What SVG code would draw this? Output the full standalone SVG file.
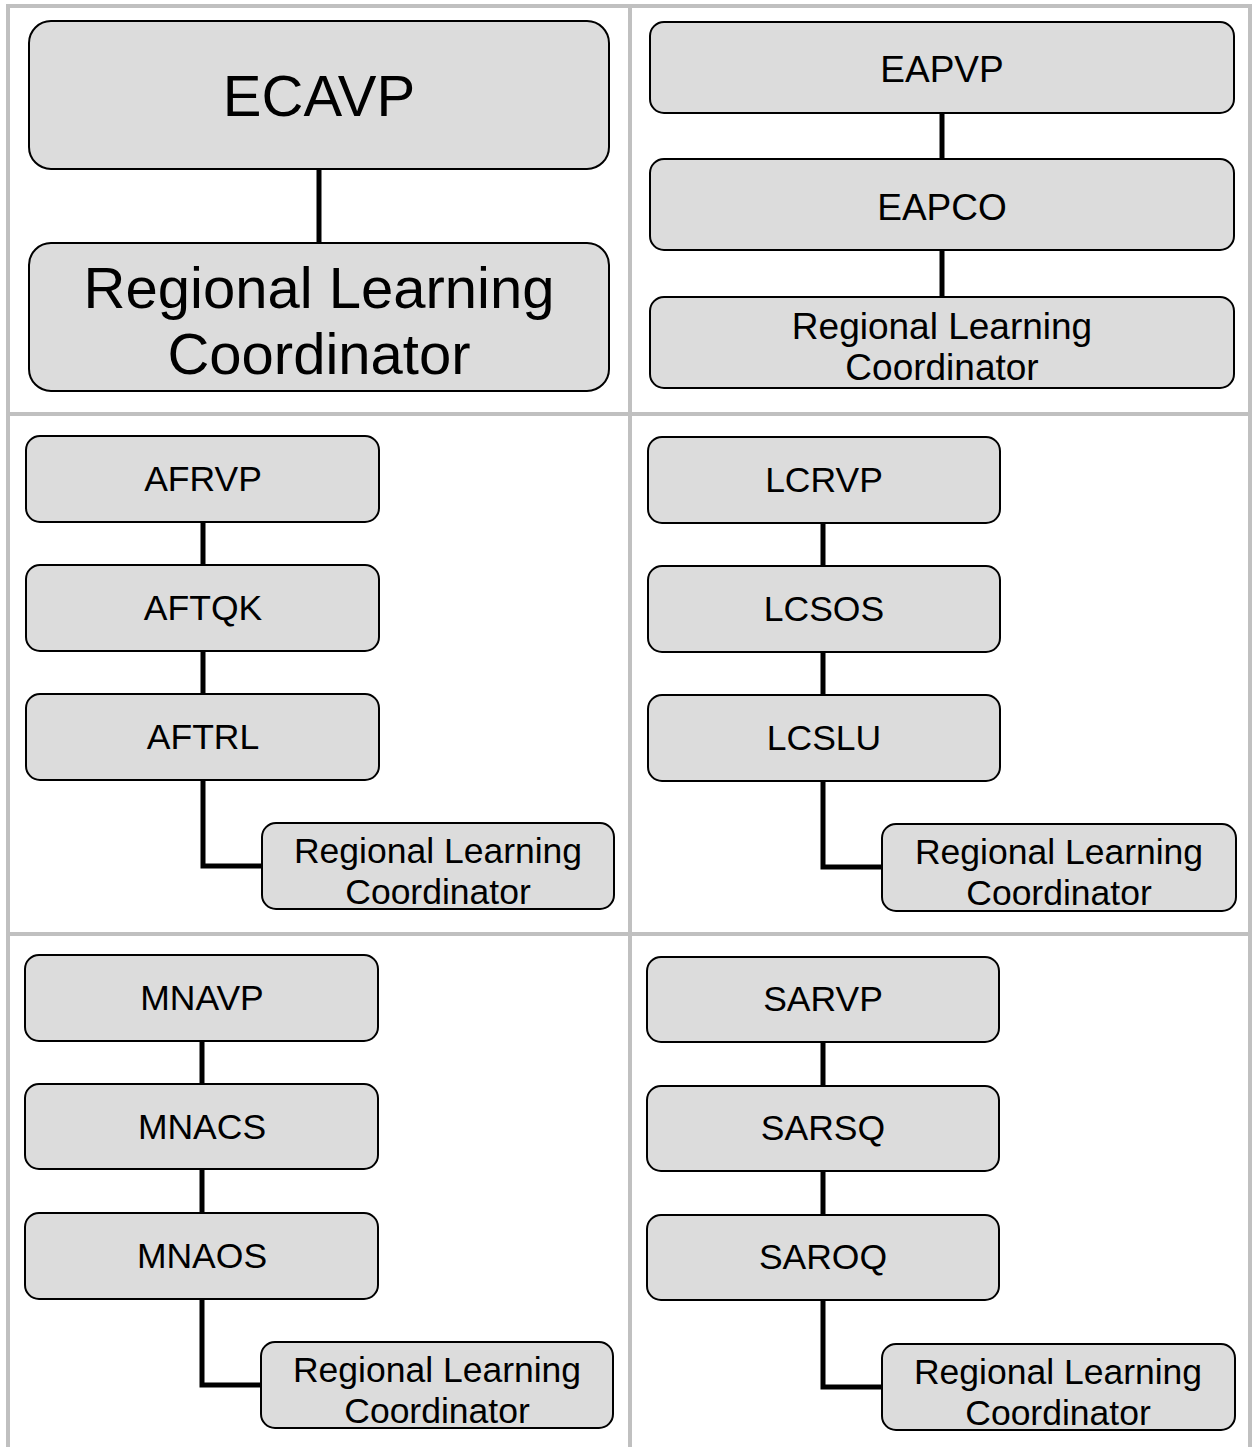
<svg xmlns="http://www.w3.org/2000/svg" width="1252" height="1447" viewBox="0 0 1252 1447">
<style>
.grid{stroke:#c0c0c0;stroke-width:4;fill:none}
.box{fill:#dcdcdc;stroke:#000;stroke-width:2}
.t{font-family:"Liberation Sans",Arial,sans-serif;fill:#000;text-anchor:middle}
.c{stroke:#000;stroke-width:5;fill:none}
</style>
<rect width="1252" height="1447" fill="#fff"/>
<g id="grid">
<line class="grid" x1="8" y1="6" x2="1250" y2="6"/>
<line class="grid" x1="8" y1="4" x2="8" y2="1447"/>
<line class="grid" x1="1250" y1="4" x2="1250" y2="1447"/>
<line class="grid" x1="630" y1="4" x2="630" y2="1447"/>
<line class="grid" x1="8" y1="414" x2="1250" y2="414"/>
<line class="grid" x1="8" y1="934" x2="1250" y2="934"/>
</g>
<g id="connectors">
<line class="c" x1="319" y1="169" x2="319" y2="243"/>
<line class="c" x1="942" y1="113" x2="942" y2="159"/>
<line class="c" x1="942" y1="250" x2="942" y2="297"/>
<path class="c" d="M203 522V565M203 651V694M203 780V866H262"/>
<path class="c" d="M823 523V566M823 652V695M823 781V867H882"/>
<path class="c" d="M202 1041V1084M202 1169V1213M202 1299V1385H261"/>
<path class="c" d="M823 1042V1086M823 1171V1215M823 1300V1387H882"/>
</g>
<g id="ecavp"><rect class="box" x="29" y="21" width="580" height="148" rx="22"/><text class="t" x="319" y="116" font-size="58">ECAVP</text></g>
<g id="rlc1"><rect class="box" x="29" y="243" width="580" height="148" rx="22"/><text class="t" x="319" y="308" font-size="58">Regional Learning</text><text class="t" x="319" y="374" font-size="58">Coordinator</text></g>
<g id="eapvp"><rect class="box" x="650" y="22" width="584" height="91" rx="14"/><text class="t" x="942" y="82" font-size="37">EAPVP</text></g>
<g id="eapco"><rect class="box" x="650" y="159" width="584" height="91" rx="14"/><text class="t" x="942" y="220" font-size="37">EAPCO</text></g>
<g id="rlc2"><rect class="box" x="650" y="297" width="584" height="91" rx="14"/><text class="t" x="942" y="339" font-size="37">Regional Learning</text><text class="t" x="942" y="380" font-size="37">Coordinator</text></g>
<g id="afrvp"><rect class="box" x="26" y="436" width="353" height="86" rx="14"/><text class="t" x="203" y="491" font-size="35.5">AFRVP</text></g>
<g id="aftqk"><rect class="box" x="26" y="565" width="353" height="86" rx="14"/><text class="t" x="203" y="620" font-size="35.5">AFTQK</text></g>
<g id="aftrl"><rect class="box" x="26" y="694" width="353" height="86" rx="14"/><text class="t" x="203" y="749" font-size="35.5">AFTRL</text></g>
<g id="rlc3"><rect class="box" x="262" y="823" width="352" height="86" rx="14"/><text class="t" x="438" y="863" font-size="35.5">Regional Learning</text><text class="t" x="438" y="904" font-size="35.5">Coordinator</text></g>
<g id="lcrvp"><rect class="box" x="648" y="437" width="352" height="86" rx="14"/><text class="t" x="824" y="492" font-size="35.5">LCRVP</text></g>
<g id="lcsos"><rect class="box" x="648" y="566" width="352" height="86" rx="14"/><text class="t" x="824" y="621" font-size="35.5">LCSOS</text></g>
<g id="lcslu"><rect class="box" x="648" y="695" width="352" height="86" rx="14"/><text class="t" x="824" y="750" font-size="35.5">LCSLU</text></g>
<g id="rlc4"><rect class="box" x="882" y="824" width="354" height="87" rx="14"/><text class="t" x="1059" y="864" font-size="35.5">Regional Learning</text><text class="t" x="1059" y="905" font-size="35.5">Coordinator</text></g>
<g id="mnavp"><rect class="box" x="25" y="955" width="353" height="86" rx="14"/><text class="t" x="202" y="1010" font-size="35.5">MNAVP</text></g>
<g id="mnacs"><rect class="box" x="25" y="1084" width="353" height="85" rx="14"/><text class="t" x="202" y="1139" font-size="35.5">MNACS</text></g>
<g id="mnaos"><rect class="box" x="25" y="1213" width="353" height="86" rx="14"/><text class="t" x="202" y="1268" font-size="35.5">MNAOS</text></g>
<g id="rlc5"><rect class="box" x="261" y="1342" width="352" height="86" rx="14"/><text class="t" x="437" y="1382" font-size="35.5">Regional Learning</text><text class="t" x="437" y="1423" font-size="35.5">Coordinator</text></g>
<g id="sarvp"><rect class="box" x="647" y="957" width="352" height="85" rx="14"/><text class="t" x="823" y="1011" font-size="35.5">SARVP</text></g>
<g id="sarsq"><rect class="box" x="647" y="1086" width="352" height="85" rx="14"/><text class="t" x="823" y="1140" font-size="35.5">SARSQ</text></g>
<g id="saroq"><rect class="box" x="647" y="1215" width="352" height="85" rx="14"/><text class="t" x="823" y="1269" font-size="35.5">SAROQ</text></g>
<g id="rlc6"><rect class="box" x="882" y="1344" width="353" height="86" rx="14"/><text class="t" x="1058" y="1384" font-size="35.5">Regional Learning</text><text class="t" x="1058" y="1425" font-size="35.5">Coordinator</text></g>
</svg>
